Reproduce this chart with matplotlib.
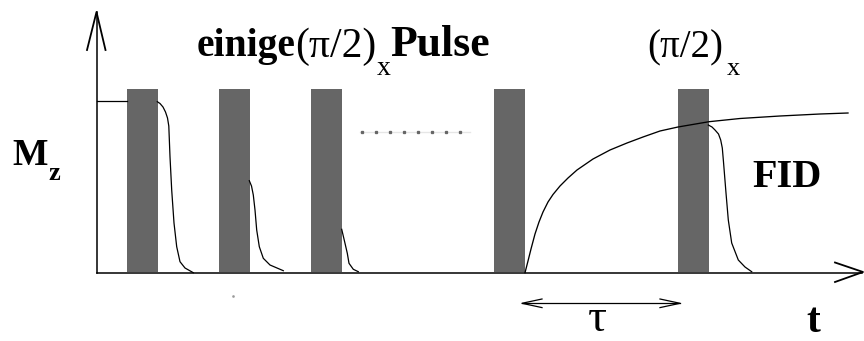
import matplotlib
matplotlib.use("Agg")
import matplotlib.pyplot as plt

# Sketch of a saturation-recovery sequence, drawn in pixel units
W, H = 864, 341

# pulse bars (left edges), common width/top/baseline
pulse_x = [127, 219, 311, 494, 678]
pulse_w = 31
pulse_top = 89
base_y = 272

# initial magnetisation level before the first pulse
m0_x = [97, 127]
m0_y = [100.7, 100.7]

# decay after each saturation pulse
decay1_x = [157.3, 160, 163, 165.5, 167.5, 168.8, 170, 171.7, 174, 176.7,
            180, 185, 193.3]
decay1_y = [101.7, 103.5, 107, 112, 118, 126, 156.7, 190, 223, 246.7,
            261.7, 268, 272.7]
decay2_x = [249.3, 251.5, 253.3, 255, 256.7, 259.3, 263.3, 270, 283.3]
decay2_y = [180.7, 186, 195, 210, 230, 246.7, 258.3, 265, 270.7]
decay3_x = [341.7, 345, 347.3, 349, 353.3, 358.3]
decay3_y = [229.3, 243.3, 253.3, 263.3, 269.3, 271.7]

# recovery of Mz after the last saturation pulse
rec_x = [525, 528, 531, 535, 539, 543, 548, 553, 560, 568, 577, 593, 610,
         627, 643, 660, 678, 709, 740, 780, 820, 848]
rec_y = [272.7, 261, 249, 234, 222, 212, 202, 194.5, 186, 178, 170, 159, 150,
         143, 137, 131, 127, 121.7, 118.5, 116, 114, 113]

# free induction decay after the read pulse
fid_x = [708.3, 712, 715, 718.5, 720.7, 722.3, 723.5, 726, 728.3, 731.7,
         738.3, 745, 751.7]
fid_y = [125, 127, 130, 134, 140, 148, 162, 193, 220, 243,
         260, 267, 271.7]

# "......" between the third and fourth pulse
dots_x = [362, 376, 390, 404, 418, 432, 446, 460]
dots_y = 131.5

serif = ["Liberation Serif", "DejaVu Serif"]
bar_color = "#666666"

fig = plt.figure(figsize=(W / 100, H / 100), dpi=100)
ax = fig.add_axes([0, 0, 1, 1])
ax.set_xlim(0, W)
ax.set_ylim(H, 0)
ax.axis("off")

# axes with open arrow heads
ax.plot([96.5, 96.5], [272.5, 12], color="black", lw=1.1)
ax.plot([87, 96.5, 105.5], [50, 12, 50], color="black", lw=1.3)
ax.plot([96.5, 862], [272.5, 272.5], color="black", lw=1.1)
ax.plot([835, 863, 835], [262.5, 272, 282], color="black", lw=1.3)

ax.bar(pulse_x, [pulse_top - base_y] * len(pulse_x), width=pulse_w,
       bottom=base_y, align="edge", color=bar_color, zorder=2)

for xs, ys in [(m0_x, m0_y), (decay1_x, decay1_y), (decay2_x, decay2_y),
               (decay3_x, decay3_y), (fid_x, fid_y)]:
    ax.plot(xs, ys, color="black", lw=0.9, zorder=3)
ax.plot(rec_x, rec_y, color="black", lw=0.95, zorder=3)

ax.plot([360, 470], [dots_y, dots_y], color="#e6e6e6", lw=1.0, zorder=1)
ax.plot(dots_x, [dots_y] * len(dots_x), ls="none", marker="s",
        ms=1.4, color="#666666", zorder=2)
ax.plot([233], [296], ls="none", marker="s", ms=0.8, color="#999999")

# tau interval arrow
ax.plot([522, 680], [303.3, 303.3], color="black", lw=0.9)
ax.plot([542, 522, 542], [299, 303.3, 307.6], color="black", lw=0.9)
ax.plot([660, 680, 660], [299, 303.3, 307.6], color="black", lw=0.9)

txt = dict(family=serif, va="baseline", ha="left", color="black")
ax.text(197, 56, "einige", fontsize=28.5, fontweight="bold", **txt)
ax.text(295, 57, "(π/2)", fontsize=30, **txt)
ax.text(377, 75, "x", fontsize=20, **txt)
ax.text(390, 56, "Pulse", fontsize=31.5, fontweight="bold", **txt)

ax.text(647, 57, "(π/2)", fontsize=28, **txt)
ax.text(727, 75, "x", fontsize=19, **txt)

ax.text(12, 165, "M", fontsize=27, fontweight="bold", **txt)
ax.text(48, 180, "z", fontsize=19, fontweight="bold", **txt)

ax.text(752, 187, "FID", fontsize=29, fontweight="bold", **txt)
ax.text(588, 331, "τ", fontsize=34, **txt)
ax.text(806, 332, "t", fontsize=30, fontweight="bold", **txt)

fig.savefig("out.png", dpi=100)
